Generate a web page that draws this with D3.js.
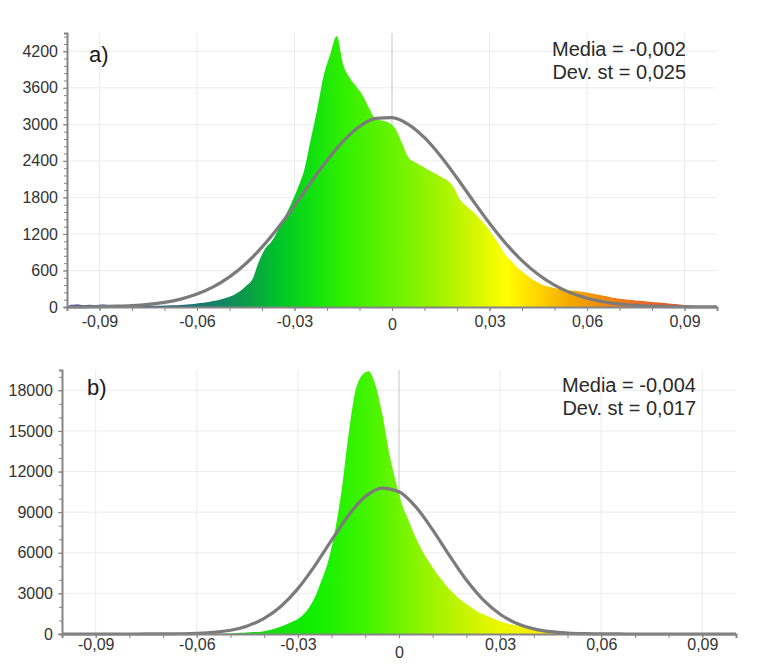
<!DOCTYPE html>
<html>
<head>
<meta charset="utf-8">
<style>
  body { margin: 0; background: #fff; }
  svg { display: block; font-family: "Liberation Sans", Arial, sans-serif; }
  .domain { stroke: #858585; stroke-width: 2; }
  .tick line { stroke: #858585; }
  .tick text { fill: #333; font-size: 16px; }
  .grid { stroke: #ececec; }
</style>
</head>
<body>
<svg width="767" height="671"></svg>
<script src="https://d3js.org/d3.v7.min.js"></script>
<script>

// histogram bins: start -0.1, width 0.002, 100 bins
var binStart = -0.1;
var binWidth = 0.002;

var histA = [
  35, 42, 30, 38, 33, 40, 28, 24, 22, 19,
  18, 17, 19, 20, 22, 25, 28, 33, 40, 50,
  65, 80, 100, 120, 150, 190, 250, 340, 450, 740,
  960, 1080, 1270, 1480, 1700, 1950, 2250, 2750, 3250, 3800,
  4150, 4450, 3980, 3760, 3620, 3470, 3260, 3090, 3060, 3030,
  2930, 2700, 2460, 2380, 2320, 2260, 2200, 2140, 2080, 1960,
  1760, 1650, 1560, 1450, 1330, 1180, 1020, 850, 740, 630,
  540, 460, 400, 350, 325, 300, 285, 270, 258, 245,
  225, 205, 185, 165, 145, 130, 118, 108, 98, 88,
  78, 68, 58, 48, 38, 30, 22, 16, 12, 8
];

var histB = [
  0, 0, 0, 0, 0, 0, 0, 0, 0, 0,
  0, 0, 0, 0, 0, 0, 0, 0, 0, 0,
  4, 8, 14, 24, 40, 60, 85, 110, 140, 175,
  260, 380, 560, 760, 980, 1300, 1850, 2700, 3950, 5400,
  7600, 10700, 14700, 17900, 19100, 19400, 18400, 16300, 13500, 11300,
  9500, 8300, 7100, 6100, 5300, 4550, 3900, 3300, 2800, 2380,
  2050, 1700, 1450, 1230, 1040, 870, 720, 620, 520, 420,
  350, 290, 240, 200, 165, 135, 110, 90, 70, 55,
  42, 32, 24, 18, 13, 9, 6, 4, 2, 0,
  0, 0, 0, 0, 0, 0, 0, 0, 0, 0
];

// fitted normal curves, read every 0.005
var curveX = [
  -0.100, -0.095, -0.090, -0.085, -0.080, -0.075, -0.070, -0.065, -0.060, -0.055,
  -0.050, -0.045, -0.040, -0.035, -0.030, -0.025, -0.020, -0.015, -0.010, -0.005,
  0.000, 0.005, 0.010, 0.015, 0.020, 0.025, 0.030, 0.035, 0.040, 0.045,
  0.050, 0.055, 0.060, 0.065, 0.070, 0.075, 0.080, 0.085, 0.090, 0.095, 0.100
];
var curveA = [
  1, 3, 6, 13, 24, 44, 77, 130, 212, 330,
  494, 711, 983, 1306, 1665, 2044, 2408, 2725, 2964, 3098,
  3110, 3000, 2780, 2476, 2119, 1741, 1375, 1044, 761, 533,
  359, 232, 144, 86, 49, 27, 14, 7, 4, 2, 1
];
var curveB = [
  0, 0, 0, 0, 0, 2, 6, 17, 47, 120,
  278, 590, 1147, 2048, 3353, 5036, 6934, 8760, 10148, 10782,
  10505, 9388, 7694, 5784, 3986, 2521, 1461, 777, 379, 170,
  70, 26, 9, 3, 1, 0, 0, 0, 0, 0, 0
];

var xMajor = [-0.09, -0.06, -0.03, 0, 0.03, 0.06, 0.09];
var yTicksA = [0, 600, 1200, 1800, 2400, 3000, 3600, 4200];
var yTicksB = [0, 3000, 6000, 9000, 12000, 15000, 18000];

var statsA = ["Media = -0,002", "Dev. st = 0,025"];
var statsB = ["Media = -0,004", "Dev. st = 0,017"];

var svg = d3.select("svg");

var loc = d3.formatLocale({decimal: ",", thousands: ".", grouping: [3], currency: ["", ""], minus: "-"});
var fmtX = loc.format(".2f");
function xLabel(d) { return d === 0 ? "0" : fmtX(d); }

function drawPanel(p) {
  var g = svg.append("g");
  var x = d3.scaleLinear().domain([-0.1, 0.1]).range([p.left, p.right]);
  var y = d3.scaleLinear().domain([0, p.yMax]).range([p.bottom, p.top]);

  // grid
  g.selectAll(".hg").data(p.yTicks.slice(1)).join("line")
    .attr("class", "grid")
    .attr("x1", p.left).attr("x2", p.right)
    .attr("y1", function(d){ return y(d); }).attr("y2", function(d){ return y(d); });
  g.selectAll(".vg").data(xMajor).join("line")
    .attr("class", "grid")
    .attr("x1", function(d){ return x(d); }).attr("x2", function(d){ return x(d); })
    .attr("y1", p.bottom).attr("y2", p.top)
    .style("stroke", function(d){ return d === 0 ? "#c4c4c4" : null; });

  // gradient by x value
  var grad = svg.append("defs").append("linearGradient")
    .attr("id", p.id)
    .attr("gradientUnits", "userSpaceOnUse")
    .attr("x1", x(-0.1)).attr("x2", x(0.1))
    .attr("y1", 0).attr("y2", 0);
  grad.selectAll("stop").data(p.stops).join("stop")
    .attr("offset", function(d){ return (d[0] + 0.1) / 0.2; })
    .attr("stop-color", function(d){ return d[1]; });

  var bins = p.hist.map(function(v, i){ return [binStart + binWidth * (i + 0.5), v]; });
  var area = d3.area()
    .x(function(d){ return x(d[0]); })
    .y0(y(0))
    .y1(function(d){ return y(d[1]); })
    .curve(d3.curveMonotoneX);
  g.append("path").datum(bins)
    .attr("d", area)
    .attr("fill", "url(#" + p.id + ")");

  var line = d3.line()
    .x(function(d, i){ return x(curveX[i]); })
    .y(function(d){ return y(d); })
    .curve(d3.curveMonotoneX);
  g.append("path").datum(p.curve)
    .attr("d", line)
    .attr("fill", "none")
    .attr("stroke", "#7b7b7b")
    .attr("stroke-width", 3.2);

  // x axis: minor then major
  g.append("g")
    .attr("transform", "translate(0," + p.bottom + ")")
    .call(d3.axisBottom(x).tickValues(d3.range(-10, 11).map(function(k){ return k / 100; }))
      .tickSize(4).tickFormat(""));
  var xa = g.append("g")
    .attr("transform", "translate(0," + p.bottom + ")")
    .call(d3.axisBottom(x).tickValues(xMajor).tickSize(4).tickPadding(p.xPad).tickFormat(xLabel));
  xa.select(".domain").remove();
  xa.selectAll(".tick text")
    .attr("dy", function(d){ return d === 0 ? (p.zeroDy + 11) + "px" : "11px"; });

  // y axis
  g.append("g")
    .attr("transform", "translate(" + p.left + ",0)")
    .call(d3.axisLeft(y).tickValues(d3.range(0, p.yMax + 1, p.yMinor)).tickSize(3).tickFormat(""));
  var ya = g.append("g")
    .attr("transform", "translate(" + p.left + ",0)")
    .call(d3.axisLeft(y).tickValues(p.yTicks).tickSize(4).tickPadding(p.yPad).tickFormat(d3.format("d")));
  ya.select(".domain").remove();

  g.append("text")
    .attr("x", p.labelX).attr("y", p.labelY)
    .style("font-size", "22px").style("fill", "#1a1a1a")
    .text(p.label);

  g.selectAll(".stat").data(p.stats).join("text")
    .attr("x", p.statX)
    .attr("y", function(d, i){ return p.statY + i * 23; })
    .attr("text-anchor", "end")
    .style("font-size", "20px").style("fill", "#2a2a2a")
    .text(function(d){ return d; });
}

drawPanel({
  id: "gradA", hist: histA, curve: curveA,
  left: 67, right: 717, top: 33, bottom: 307,
  yMax: 4500, yTicks: yTicksA, yMinor: 120,
  xPad: 5, yPad: 5, zeroDy: 3,
  label: "a)", labelX: 89, labelY: 62,
  stats: statsA, statX: 686, statY: 56,
  stops: [
    [-0.1, "#1c30bc"], [-0.085, "#2a3c9a"], [-0.07, "#24607a"], [-0.055, "#15806a"],
    [-0.045, "#0c9a48"], [-0.035, "#00c42a"], [-0.025, "#10e010"], [-0.015, "#30f000"],
    [-0.005, "#55f200"], [0.005, "#7af400"], [0.015, "#a4f400"], [0.025, "#d2f600"],
    [0.035, "#ffff00"], [0.045, "#ffd400"], [0.055, "#f4a800"], [0.065, "#f08a10"],
    [0.08, "#e86428"], [0.1, "#d8482c"]
  ]
});

drawPanel({
  id: "gradB", hist: histB, curve: curveB,
  left: 62, right: 736, top: 370, bottom: 634,
  yMax: 19500, yTicks: yTicksB, yMinor: 1000,
  xPad: 1, yPad: 5, zeroDy: 8,
  label: "b)", labelX: 87, labelY: 395,
  stats: statsB, statX: 696, statY: 392,
  stops: [
    [-0.1, "#0a9a40"], [-0.05, "#20c020"], [-0.04, "#18dc10"], [-0.025, "#10f000"],
    [-0.01, "#40f400"], [0, "#70f400"], [0.01, "#a0f400"], [0.02, "#c8f400"],
    [0.03, "#ecf800"], [0.04, "#f8f000"], [0.06, "#f8d000"], [0.1, "#f0a000"]
  ]
});

</script>
</body>
</html>
